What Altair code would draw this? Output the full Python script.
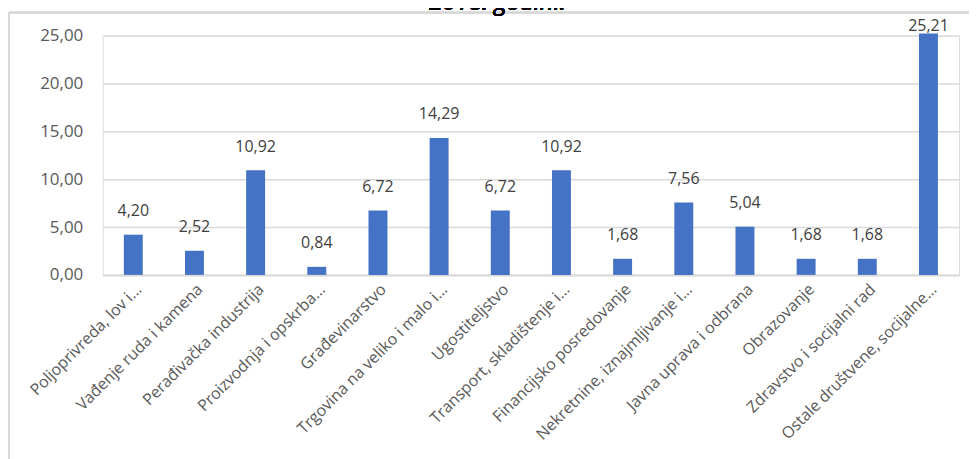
import altair as alt
import pandas as pd

categories = [
    "Poljoprivreda, lov i…",
    "Vađenje ruda i kamena",
    "Perađivačka industrija",
    "Proizvodnja i opskrba…",
    "Građevinarstvo",
    "Trgovina na veliko i malo i…",
    "Ugostiteljstvo",
    "Transport, skladištenje i…",
    "Financijsko posredovanje",
    "Nekretnine, iznajmljivanje i…",
    "Javna uprava i odbrana",
    "Obrazovanje",
    "Zdravstvo i socijalni rad",
    "Ostale društvene, socijalne…",
]
values = [4.20, 2.52, 10.92, 0.84, 6.72, 14.29, 6.72, 10.92, 1.68, 7.56, 5.04, 1.68, 1.68, 25.21]
y_ticks = [0, 5, 10, 15, 20, 25]
title_text = "2018. godini."

df = pd.DataFrame({"cat": categories, "v": values})

FONT = "Open Sans"
W, H = 859, 240

x_enc = alt.X(
    "cat:N",
    sort=None,
    title=None,
    scale=alt.Scale(paddingInner=0, paddingOuter=0),
    axis=alt.Axis(
        labelAngle=-45,
        labelFont=FONT,
        labelFontSize=16,
        labelColor="#595959",
        labelLimit=400,
        labelPadding=6,
        ticks=False,
        domainColor="#d9d9d9",
        domainWidth=2,
        grid=False,
    ),
)
y_enc = alt.Y(
    "v:Q",
    title=None,
    scale=alt.Scale(domain=[0, 25], nice=False),
    axis=alt.Axis(
        values=y_ticks,
        labelExpr="replace(format(datum.value, '.2f'), '.', ',')",
        labelFont=FONT,
        labelFontSize=17,
        labelColor="#595959",
        labelPadding=20,
        ticks=False,
        domain=False,
        gridColor="#d9d9d9",
        gridWidth=1.5,
    ),
)

base = alt.Chart(df)

bars = base.mark_bar(size=19, color="#4472C4").encode(x=x_enc, y=y_enc)

labels = base.transform_calculate(
    lab="replace(format(datum.v, '.2f'), '.', ',')",
    ly="min(datum.v + 1.65, 25.21)",
).mark_text(
    font=FONT, fontSize=16, color="#404040", baseline="bottom", align="center"
).encode(
    x=alt.X("cat:N", sort=None),
    y=alt.Y("ly:Q"),
    text="lab:N",
)

frame_left = base.mark_rule(color="#d9d9d9", strokeWidth=2).encode(
    x=alt.value(-94), y=alt.value(-23), y2=alt.value(440)
)
frame_top = base.mark_rule(color="#d9d9d9", strokeWidth=2).encode(
    x=alt.value(-94), x2=alt.value(900), y=alt.value(-23)
)
title = base.mark_text(
    font=FONT, fontSize=24, fontStyle="italic", fontWeight="normal", color="#000000",
    baseline="alphabetic", align="center",
).encode(
    x=alt.value(396), y=alt.value(-26), text=alt.value(title_text)
)

chart = alt.layer(bars, labels, frame_left, frame_top, title).properties(
    width=W,
    height=H,
    autosize=alt.AutoSizeParams(type="none"),
    padding={"left": 95, "top": 27, "right": 10, "bottom": 190},
).configure_view(stroke=None).configure(background="white")

chart.save("out.html", embed_options={"renderer": "svg", "actions": False})
